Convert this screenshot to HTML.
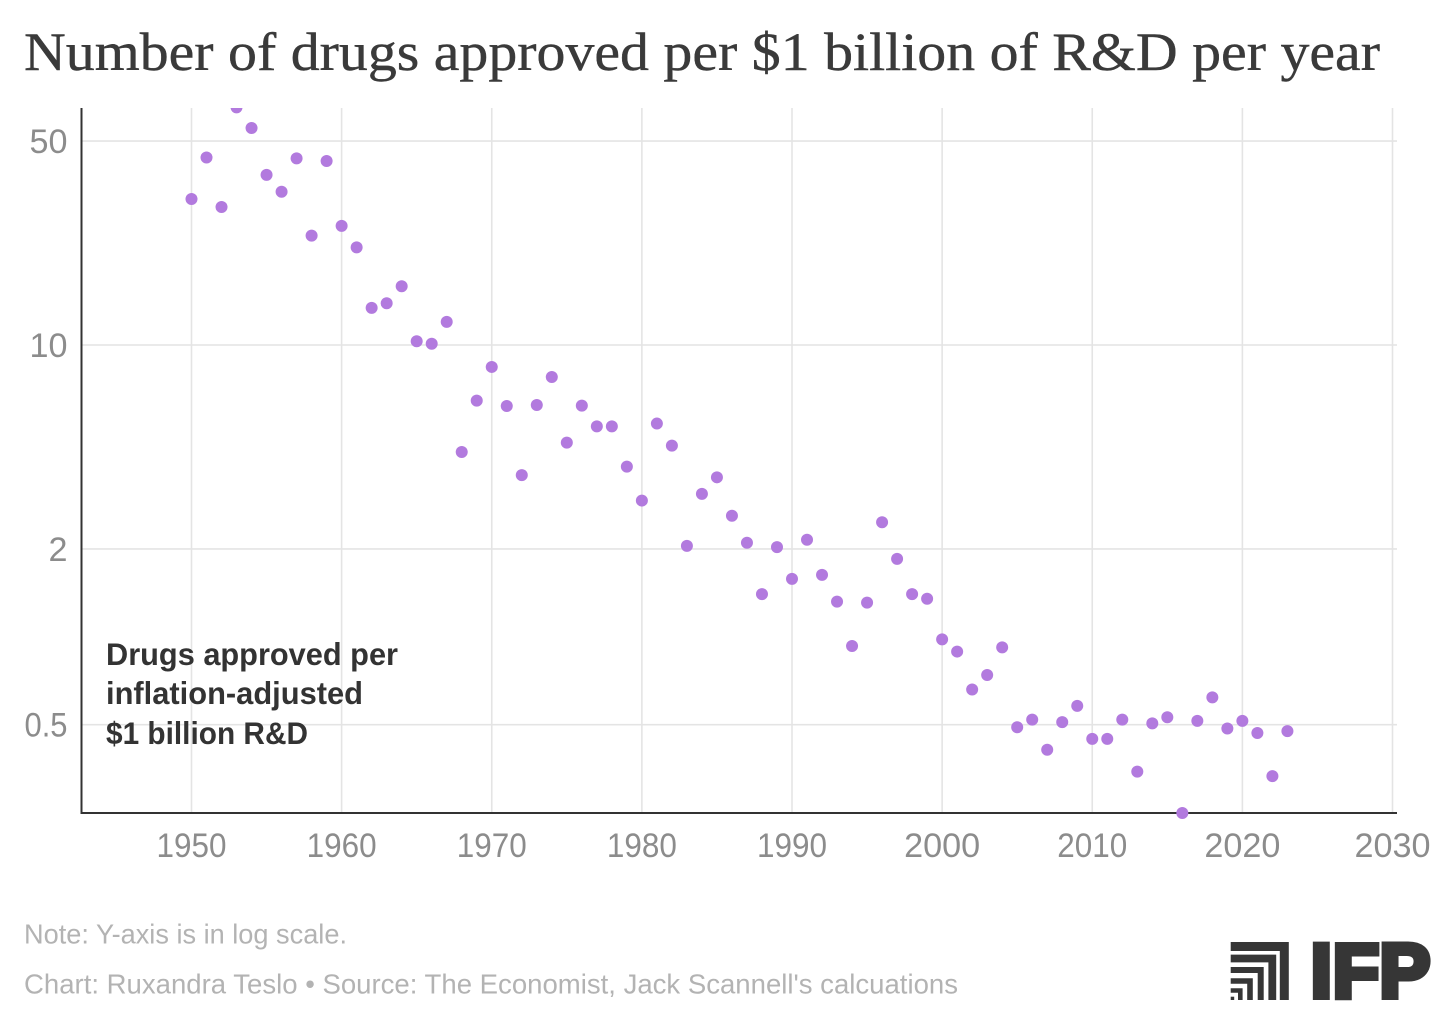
<!DOCTYPE html>
<html lang="en">
<head>
<meta charset="utf-8">
<title>Number of drugs approved per $1 billion of R&amp;D per year</title>
<style>
html,body{margin:0;padding:0;background:#fff;width:1456px;height:1024px;overflow:hidden}
svg{display:block}
text{font-family:"Liberation Sans",sans-serif}
.tick{font-size:34px;fill:#8c8c8c}
.ann{font-size:31.5px;font-weight:700;fill:#333}
.foot{font-size:27.5px;fill:#b3b3b3}
</style>
</head>
<body>
<svg id="chart" width="1456" height="1024" viewBox="0 0 1456 1024" xmlns="http://www.w3.org/2000/svg">
  <defs><clipPath id="plot-clip"><rect x="60" y="108" width="1380" height="730"/></clipPath></defs>
  <text x="24" y="70" textLength="1356" lengthAdjust="spacingAndGlyphs" style="font-family:'Liberation Serif',serif;font-size:54px;fill:#3a3a3a;stroke:#3a3a3a;stroke-width:0.4">Number of drugs approved per $1 billion of R&amp;D per year</text>
  <g id="grid"></g>
  <g id="axes"></g>
  <g id="points" clip-path="url(#plot-clip)"></g>
  <g>
    <text class="ann" x="106" y="665" textLength="292" lengthAdjust="spacingAndGlyphs">Drugs approved per</text>
    <text class="ann" x="106" y="704" textLength="257" lengthAdjust="spacingAndGlyphs">inflation-adjusted</text>
    <text class="ann" x="106" y="744" textLength="202" lengthAdjust="spacingAndGlyphs">$1 billion R&amp;D</text>
  </g>
  <text class="foot" x="24" y="943.5" textLength="323" lengthAdjust="spacingAndGlyphs">Note: Y-axis is in log scale.</text>
  <text class="foot" x="24" y="993.5" textLength="934" lengthAdjust="spacingAndGlyphs">Chart: Ruxandra Teslo • Source: The Economist, Jack Scannell's calcuations</text>
  <g>
    <g fill="none" stroke="#363636">
      <path d="M1230.7 946.5H1284.3V1000" stroke-width="9"/>
      <path d="M1230.7 958.5H1272.3V1000" stroke-width="7.8"/>
      <path d="M1230.7 970H1260.7V1000" stroke-width="6"/>
      <path d="M1230.7 981H1250V1000" stroke-width="5.6"/>
      <path d="M1230.7 990.5H1240.3V1000" stroke-width="4.6"/>
      <rect x="1230.7" y="996.7" width="3.5" height="3.3" fill="#363636" stroke="none"/>
    </g>
    <text x="1310.7 1332.8 1379.5" y="997" style="font-size:76px;font-weight:700;fill:#363636;stroke:#363636;stroke-width:6">IFP</text>
  </g>
</svg>
<script>
const years = [1950,1951,1952,1953,1954,1955,1956,1957,1958,1959,1960,1961,1962,1963,1964,1965,1966,1967,1968,1969,1970,1971,1972,1973,1974,1975,1976,1977,1978,1979,1980,1981,1982,1983,1984,1985,1986,1987,1988,1989,1990,1991,1992,1993,1994,1995,1996,1997,1998,1999,2000,2001,2002,2003,2004,2005,2006,2007,2008,2009,2010,2011,2012,2013,2014,2015,2016,2017,2018,2019,2020,2021,2022,2023];
const approvals = [31.65,43.9,29.7,65.2,55.4,38.3,33.5,43.6,23.7,42.7,25.6,21.6,13.4,13.9,15.9,10.3,10.1,12.0,4.30,6.45,8.41,6.18,3.58,6.23,7.77,4.63,6.20,5.26,5.26,3.83,2.93,5.38,4.52,2.05,3.09,3.52,2.60,2.10,1.40,2.03,1.58,2.15,1.63,1.32,0.93,1.31,2.47,1.85,1.40,1.35,0.98,0.89,0.66,0.74,0.92,0.49,0.52,0.41,0.51,0.58,0.447,0.447,0.52,0.345,0.505,0.53,0.249,0.515,0.62,0.485,0.515,0.468,0.333,0.475];
const xTicks = [1950,1960,1970,1980,1990,2000,2010,2020,2030];
const yTicks = [50,10,2,0.5];

const NS = 'http://www.w3.org/2000/svg';
const plotLeft = 81.5, plotRight = 1397, plotTop = 108, plotBottom = 813;
function xScale(year){ return 191.5 + (year - 1950) * 15.0125; }
function yScale(value){ return 345 - 291.8 * Math.log10(value / 10); }

function make(tag, parent){
  const el = document.createElementNS(NS, tag);
  parent.appendChild(el);
  return el;
}
function setAll(el, props){
  for (const k in props) el.setAttribute(k, props[k]);
}

const gridG = document.getElementById('grid');
const axesG = document.getElementById('axes');
const pointsG = document.getElementById('points');

xTicks.forEach(function(t){
  const line = make('line', gridG);
  
  
  setAll(line, {x1:xScale(t), x2:xScale(t), y1:plotTop, y2:plotBottom, stroke:'#e4e4e4', 'stroke-width':1.6});
  const label = make('text', axesG);
  
  
  const txt = String(t);
  setAll(label, {x:xScale(t), y:857, 'text-anchor':'middle', class:'tick', textLength:txt.indexOf('1') >= 0 ? 70 : 76, lengthAdjust:'spacingAndGlyphs'});
  label.textContent = txt;
});

yTicks.forEach(function(t){
  const line = make('line', gridG);
  
  
  setAll(line, {x1:plotLeft, x2:plotRight, y1:yScale(t), y2:yScale(t), stroke:'#e4e4e4', 'stroke-width':1.6});
  const label = make('text', axesG);
  
  
  const txt = String(t);
  const digitCount = txt.replace('.', '').length;
  setAll(label, {x:67.5, y:yScale(t) + 12, 'text-anchor':'end', class:'tick', textLength:digitCount * 19 + (txt.indexOf('.') >= 0 ? 5 : 0), lengthAdjust:'spacingAndGlyphs'});
  label.textContent = txt;
});

const yAxis = make('line', axesG);


setAll(yAxis, {x1:plotLeft, x2:plotLeft, y1:plotTop, y2:plotBottom + 1, stroke:'#333', 'stroke-width':2});

const xAxis = make('line', axesG);


setAll(xAxis, {x1:plotLeft - 1, x2:plotRight, y1:plotBottom, y2:plotBottom, stroke:'#333', 'stroke-width':2});

years.forEach(function(year, i){
  const dot = make('circle', pointsG);
  
  
  setAll(dot, {cx:xScale(year), cy:yScale(approvals[i]), r:6, fill:'#b27ade'});
});
</script>
</body>
</html>
